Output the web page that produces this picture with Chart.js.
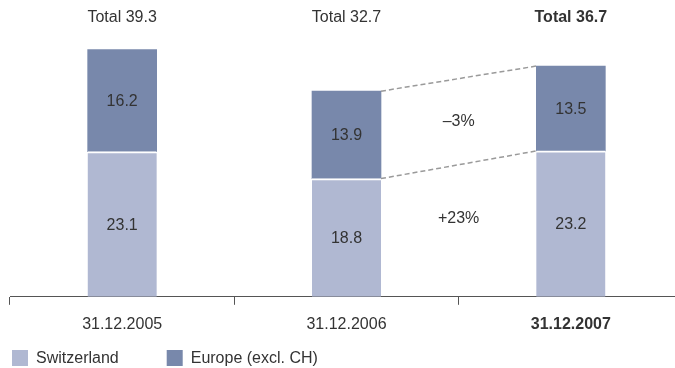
<!DOCTYPE html>
<html>
<head>
<meta charset="utf-8">
<script src="https://cdn.jsdelivr.net/npm/chart.js@4/dist/chart.umd.min.js"></script>
<style>
  html, body { margin: 0; padding: 0; background: #ffffff; overflow: hidden; }
  #wrap { width: 700px; height: 368px; position: relative; }
</style>
</head>
<body>
<div id="wrap"><canvas id="chart"></canvas></div>
<script>
// Assets by region, in billions
const categories = ['31.12.2005', '31.12.2006', '31.12.2007'];
const switzerland = [23.1, 18.8, 23.2];
const europe = [16.2, 13.9, 13.5];
const totals = [39.3, 32.7, 36.7];
const seriesNames = ['Switzerland', 'Europe (excl. CH)'];
const changeLabels = ['\u20133%', '+23%'];   // Europe change, Switzerland change (2006 -> 2007)
const highlightIndex = 2;                    // latest year is shown in bold

const FONT = '"Liberation Sans", Arial, sans-serif';
const TEXT = '#333333';
const COLORS = ['#b0b8d2', '#7888ab'];

const annotate = {
  id: 'annotate',
  afterDatasetsDraw(chart) {
    const ctx = chart.ctx;
    const y = chart.scales.y;
    const low = chart.getDatasetMeta(0).data;
    const high = chart.getDatasetMeta(1).data;
    ctx.save();
    ctx.textAlign = 'center';
    ctx.textBaseline = 'middle';
    ctx.fillStyle = TEXT;

    // values inside each segment
    [low, high].forEach((els, d) => {
      const vals = chart.data.datasets[d].data;
      els.forEach((el, i) => {
        ctx.font = '16px ' + FONT;
        ctx.fillText(vals[i].toFixed(1), el.x, (el.y + el.base) / 2 + 1);
      });
    });

    // totals above the bars
    high.forEach((el, i) => {
      ctx.font = (i === highlightIndex ? 'bold ' : '') + '16px ' + FONT;
      ctx.fillText('Total ' + totals[i].toFixed(1), el.x, 18);
    });

    // dashed connectors between the last two bars
    const a = 1, b = 2;
    ctx.strokeStyle = '#9a9a9a';
    ctx.lineWidth = 1.5;
    ctx.setLineDash([5, 3]);
    [high, low].forEach(els => {
      const p = els[a], q = els[b];
      ctx.beginPath();
      ctx.moveTo(p.x + p.width / 2, p.y);
      ctx.lineTo(q.x - q.width / 2, q.y);
      ctx.stroke();
    });
    ctx.setLineDash([]);

    // change labels
    const midX = (high[a].x + high[b].x) / 2;
    ctx.font = '16px ' + FONT;
    const euMid = ((high[a].y + high[a].base) / 2 + (high[b].y + high[b].base) / 2) / 2;
    ctx.fillText(changeLabels[0], midX, euMid);
    ctx.fillText(changeLabels[1], midX, y.getPixelForValue(12.5));

    // legend
    const legendY = 358;
    let lx = 12;
    ctx.textAlign = 'left';
    seriesNames.forEach((name, i) => {
      ctx.fillStyle = COLORS[i];
      ctx.fillRect(lx, legendY - 8, 16, 16);
      ctx.fillStyle = TEXT;
      ctx.font = '16px ' + FONT;
      ctx.fillText(name, lx + 24, legendY + 1);
      lx += 24 + ctx.measureText(name).width + 48;
    });
    ctx.restore();
  }
};

new Chart(document.getElementById('chart'), {
  type: 'bar',
  data: {
    labels: categories,
    datasets: [
      {
        label: seriesNames[0],
        data: switzerland,
        backgroundColor: COLORS[0],
        borderColor: '#ffffff',
        borderWidth: { top: 2, left: 0, right: 0, bottom: 0 },
        borderSkipped: false
      },
      {
        label: seriesNames[1],
        data: europe,
        backgroundColor: COLORS[1],
        borderWidth: 0
      }
    ]
  },
  options: {
    responsive: true,
    maintainAspectRatio: false,
    animation: false,
    events: [],
    layout: { padding: { left: 10, right: 17, top: 39, bottom: 24 } },
    datasets: { bar: { barThickness: 69 } },
    plugins: { legend: { display: false }, tooltip: { enabled: false } },
    scales: {
      x: {
        stacked: true,
        border: { display: true, color: '#555555', width: 1 },
        grid: {
          display: true,
          offset: true,
          drawOnChartArea: false,
          drawTicks: true,
          tickLength: 8,
          tickColor: '#555555',
          lineWidth: 1
        },
        ticks: {
          padding: 10,
          color: TEXT,
          font: (c) => ({ family: FONT, size: 16, weight: c.index === highlightIndex ? 'bold' : 'normal' })
        }
      },
      y: {
        stacked: true,
        display: false,
        min: 0,
        max: 41
      }
    }
  },
  plugins: [annotate]
});
</script>
</body>
</html>
